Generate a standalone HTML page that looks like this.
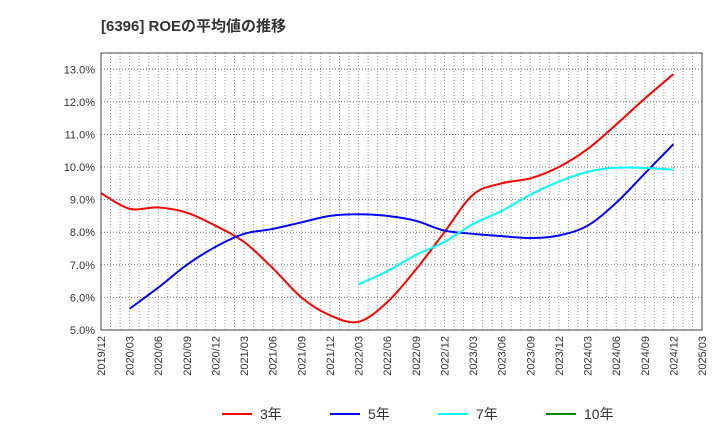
<!DOCTYPE html>
<html><head><meta charset="utf-8"><style>
body{margin:0;background:#fff;font-family:"Liberation Sans","Noto Sans CJK JP",sans-serif;}
</style></head><body>
<svg width="720" height="440" xmlns="http://www.w3.org/2000/svg" font-family="Liberation Sans, Noto Sans CJK JP, sans-serif">
<text x="101" y="31" font-size="15" font-weight="bold" fill="#333">[6396]  ROEの平均値の推移</text>
<g id="grid"></g><g id="axes"></g><g id="series"></g>
<rect x="101" y="53" width="601" height="277" fill="none" stroke="#444" stroke-width="1"/>
<g id="legend"></g>
</svg>
<script>
const xLabels=["2019/12","2020/03","2020/06","2020/09","2020/12","2021/03","2021/06","2021/09","2021/12","2022/03","2022/06","2022/09","2022/12","2023/03","2023/06","2023/09","2023/12","2024/03","2024/06","2024/09","2024/12","2025/03"];
const yTicks=[5,6,7,8,9,10,11,12,13];
const roe3=[9.2,8.72,8.76,8.6,8.2,7.7,6.9,6.0,5.45,5.25,5.85,6.85,8.0,9.15,9.5,9.65,10.0,10.55,11.3,12.1,12.85];
const roe5=[null,5.65,6.3,7.0,7.55,7.95,8.1,8.3,8.5,8.55,8.5,8.35,8.05,7.95,7.88,7.82,7.9,8.2,8.9,9.8,10.7];
const roe7=[null,null,null,null,null,null,null,null,null,6.4,6.8,7.3,7.7,8.25,8.65,9.15,9.55,9.85,9.98,9.97,9.92];
const roe10=[];
const NS="http://www.w3.org/2000/svg";
const X0=101,X1=702,Y0=53,Y1=330;
const xs=i=>X0+(X1-X0)*i/21;
const ys=v=>Y1-(v-4.999)/8.5*(Y1-Y0);
function mk(t,a,p){const e=document.createElementNS(NS,t);for(const k in a)e.setAttribute(k,a[k]);p.appendChild(e);return e;}
const grid=document.getElementById('grid'),axes=document.getElementById('axes');
for(let m=1;m<63;m++){const x=X0+(X1-X0)*m/63;
const l=mk('line',{x1:x,x2:x,y1:Y0,y2:Y1,stroke:'#999','stroke-dasharray':'1,2','stroke-width':1},grid);

}
yTicks.forEach(v=>{const y=ys(v);
const l=mk('line',{x1:X0,x2:X1,y1:y,y2:y,stroke:'#777','stroke-dasharray':'1,2','stroke-width':1},grid);


const t=mk('text',{x:X0-6,y:y+4,'text-anchor':'end','font-size':11,fill:'#333'},axes);t.textContent=v.toFixed(1)+'%';

});
xLabels.forEach((s,i)=>{const x=xs(i);
const t=mk('text',{x:x+4,y:336,'text-anchor':'end','font-size':11,fill:'#333',transform:`rotate(-90 ${x+4} 336)`},axes);t.textContent=s;

});
function path(arr){const p=[];arr.forEach((v,i)=>{if(v!=null)p.push([xs(i),ys(v)]);});
if(p.length<2)return '';let d=`M${p[0][0]},${p[0][1]}`;
for(let i=0;i<p.length-1;i++){const a=p[i-1]||p[i],b=p[i],c=p[i+1],e=p[i+2]||c;
d+=` C${b[0]+(c[0]-a[0])/6},${b[1]+(c[1]-a[1])/6} ${c[0]-(e[0]-b[0])/6},${c[1]-(e[1]-b[1])/6} ${c[0]},${c[1]}`;}return d;}
const ser=document.getElementById('series');
[[roe3,'#f00','line-3y'],[roe5,'#00f','line-5y'],[roe7,'#0ff','line-7y'],[roe10,'#080','line-10y']].forEach(([a,c,n])=>{
const d=path(a);if(!d)return;const e=mk('path',{d:d,fill:'none',stroke:c,'stroke-width':2},ser);

});
const lg=document.getElementById('legend');
[['3年','#f00',222],['5年','#00f',330],['7年','#0ff',438],['10年','#080',546]].forEach(([s,c,x])=>{
const g=mk('g',{},lg);


mk('line',{x1:x,x2:x+30,y1:414,y2:414,stroke:c,'stroke-width':2},g);
const t=mk('text',{x:x+38,y:419,'font-size':14,fill:'#333'},g);t.textContent=s;});
</script>
</body></html>
